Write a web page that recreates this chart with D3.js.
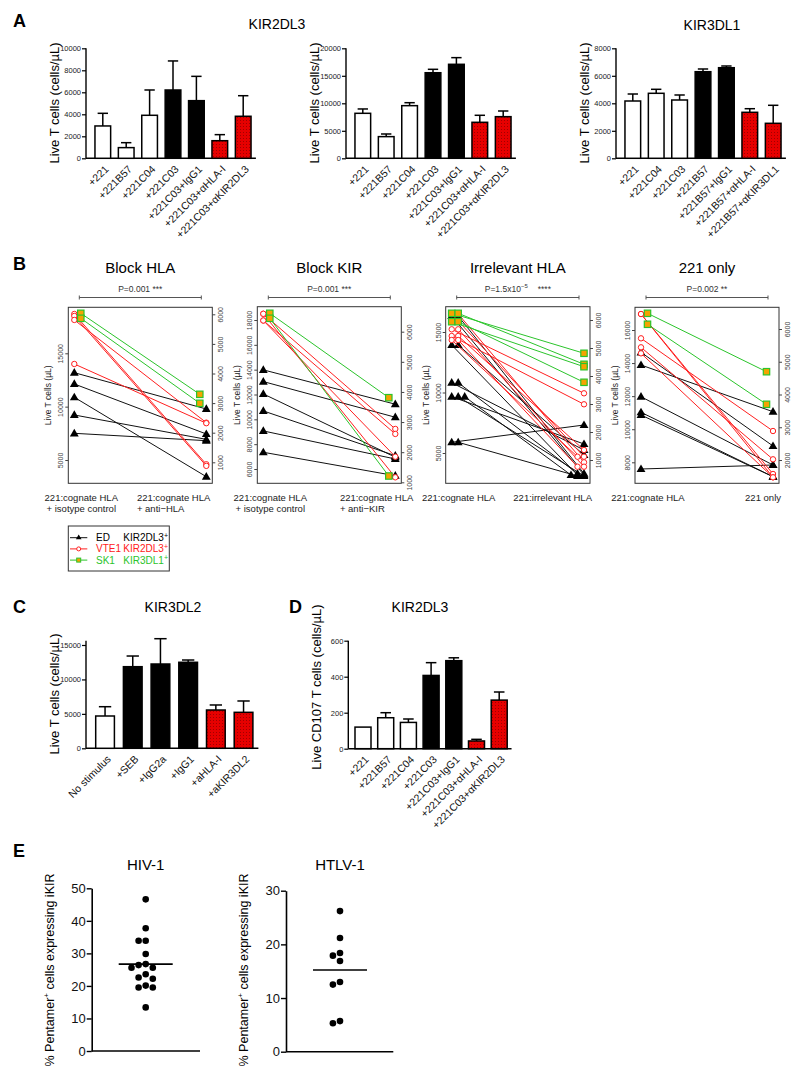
<!DOCTYPE html>
<html lang="en">
<head>
<meta charset="UTF-8">
<title>KIR blocking figure</title>
<script src="https://cdn.jsdelivr.net/npm/d3@7/dist/d3.min.js"></script>
<style>
body{margin:0;background:#fff}
svg{font-family:"Liberation Sans",Arial,Helvetica,sans-serif}
</style>
</head>
<body>
<script>
// ---------------- data ----------------
// panel A : mean and SEM (cells/uL)
const a1Cats=["+221","+221B57","+221C04","+221C03","+221C03+IgG1","+221C03+\u03b1HLA-I","+221C03+\u03b1KIR2DL3"]
const a1Kind=["w","w","w","k","k","r","r"]
const a1Mean=[2940,970,3910,6210,5240,1600,3820]
const a1Sem=[1150,450,2300,2640,2210,550,1870]

const a2Cats=a1Cats
const a2Kind=a1Kind
const a2Mean=[8180,3940,9570,15560,17090,6545,7570]
const a2Sem=[790,480,540,620,1210,1275,1030]

const a3Cats=["+221","+221C04","+221C03","+221B57","+221B57+IgG1","+221B57+\u03b1HLA-I","+221B57+\u03b1KIR3DL1"]
const a3Kind=["w","w","w","k","k","r","r"]
const a3Mean=[4167,4727,4240,6298,6589,3345,2545]
const a3Sem=[509,291,364,197,124,262,1310]

// panel C
const cCats=["No stimulus","+SEB","+IgG2a","+IgG1","+aHLA-I","+aKIR3DL2"]
const cKind=["w","k","k","k","r","r"]
const cMean=[4690,11850,12240,12490,5560,5225]
const cSem=[1350,1550,3675,330,730,1645]

// panel D
const dCats=a1Cats
const dKind=a1Kind
const dMean=[120,172,146,407,489,43,270]
const dSem=[0,28,19,71,16,9,45]

// panel B : [before, after] for each line
const b1Black=[[13184,9781],[12125,7437],[10878,3437],[9219,6937],[7500,6812]]
const b1Red=[[18687,4600],[18500,4450],[18125,8500],[14000,8450]]
const b1Green=[[6034,3297],[5865,2993]]

const b2Black=[[13984,11218],[13040,10169],[12048,6950],[10677,7073],[9065,6806],[7347,5460]]
const b2Red=[[18500,9226],[18500,5330],[17960,8823],[17960,6992]]
const b2Green=[[6611,3809],[6445,1209]]

const b3Black=[[16322,3180],[16322,3300],[13925,3180],[13925,4835],[10810,5248],[10810,3300],[9653,5744],[9653,3100],[9653,3180],[5884,7314],[5884,3100]]
const b3Red=[[16488,4694],[16488,4231],[15223,9934],[15223,3868],[14669,9025],[14669,5248],[14339,4694],[14339,3868]]
const b3Green=[[6239,4811],[6239,4418],[5939,4332],[5939,3775]]

const b4Black=[[14650,8985],[13883,11059],[11966,7837],[11023,7130],[10860,7130],[7595,7837]]
const b4Red=[[16967,7293],[16967,7093],[15497,9892],[14953,8181],[14590,7093]]
const b4Green=[[6479,4696],[6144,3701]]

const legendNames=["ED","VTE1","SK1"]
const legendKir=["KIR2DL3","KIR2DL3","KIR3DL1"]

// panel E : % pentamer+ cells expressing iKIR
const hivVals=[46.6,37.7,33.9,33.9,29.8,26.4,25.6,26.7,25.6,22.2,22.6,23.6,19.5,19.5,20.1,13.4]
const htlvVals=[26.2,21.2,18.4,17.9,16.9,13.0,12.5,5.3,5.7]

// ---------------- drawing ----------------
const svg=d3.select('body').append('svg').attr('width',800).attr('height',1083)
const defs=svg.append('defs')
const pat=defs.append('pattern').attr('id','redfill').attr('width',3).attr('height',3).attr('patternUnits','userSpaceOnUse')
pat.append('rect').attr('width',3).attr('height',3).attr('fill','#e60000')
pat.append('rect').attr('width',1).attr('height',1).attr('fill','#a00000')

function txt(x,y,s,size,opt){
  opt=opt||{}
  return svg.append('text').attr('x',x).attr('y',y).attr('font-size',size)
    .attr('text-anchor',opt.anchor||'middle').attr('font-weight',opt.bold?'bold':null)
    .attr('fill',opt.fill||'#000').text(s)
}
function vlabel(x,y,s,size){
  return svg.append('text').attr('transform',`translate(${x},${y}) rotate(-90)`)
    .attr('text-anchor','middle').attr('font-size',size).text(s)
}

function barChart(o){
  const g=svg.append('g')
  const y=d3.scaleLinear().domain([0,o.yMax]).range([o.base,o.top])
  const r0=o.x0+o.pad
  const x=d3.scaleBand().domain(o.cats).range([r0,r0+o.step*o.cats.length]).paddingInner(o.gap).paddingOuter(o.gap/2)
  const yAxis=d3.axisLeft(y).tickValues(o.ticks).tickSize(4).tickSizeOuter(0).tickFormat(d3.format('d'))
  const ya=g.append('g').attr('transform',`translate(${o.x0},0)`).call(yAxis)
  ya.select('.domain').attr('stroke','#000').attr('stroke-width',1.4).attr('d',`M0,${o.base}V${y(o.axisTop||o.yMax)}`)
  ya.selectAll('.tick line').attr('stroke-width',1.2)
  ya.selectAll('.tick text').attr('font-size',7.5).attr('fill','#222').attr('x',-5)
  g.append('line').attr('x1',o.x0).attr('x2',r0+o.step*o.cats.length+1).attr('y1',o.base).attr('y2',o.base)
    .attr('stroke','#000').attr('stroke-width',1.4)
  const fill=k=>k==='w'?'#fff':k==='k'?'#000':'url(#redfill)'
  o.cats.forEach((c,i)=>{
    const cx=x(c)+x.bandwidth()/2
    if(o.sem[i]>0){
      const yt=y(o.mean[i]+o.sem[i])
      g.append('line').attr('x1',cx).attr('x2',cx).attr('y1',y(o.mean[i])).attr('y2',yt).attr('stroke','#000').attr('stroke-width',1.5)
      g.append('line').attr('x1',cx-x.bandwidth()*0.33).attr('x2',cx+x.bandwidth()*0.33).attr('y1',yt).attr('y2',yt).attr('stroke','#000').attr('stroke-width',1.5)
    }
    g.append('rect').attr('x',x(c)).attr('y',y(o.mean[i])).attr('width',x.bandwidth()).attr('height',o.base-y(o.mean[i]))
      .attr('fill',fill(o.kind[i])).attr('stroke','#000').attr('stroke-width',1.5)
    g.append('text').attr('transform',`translate(${cx+2},${o.base+7}) rotate(-45)`).attr('text-anchor','end')
      .attr('dy','0.6em').attr('font-size',10.5).attr('fill','#111').text(c)
  })
}

// ----- A -----
txt(13,27,'A',18,{anchor:'start',bold:true})
txt(277,29,'KIR2DL3',14)
txt(712,30,'KIR3DL1',14)
const aBase={top:48.3,base:158.3,pad:5.1,step:23.4,gap:0.33}
barChart(Object.assign({x0:86,cats:a1Cats,kind:a1Kind,mean:a1Mean,sem:a1Sem,yMax:10000,ticks:[0,2000,4000,6000,8000,10000]},aBase))
barChart(Object.assign({x0:346,cats:a2Cats,kind:a2Kind,mean:a2Mean,sem:a2Sem,yMax:20000,ticks:[0,5000,10000,15000,20000]},aBase))
barChart(Object.assign({x0:616,cats:a3Cats,kind:a3Kind,mean:a3Mean,sem:a3Sem,yMax:8000,ticks:[0,2000,4000,6000,8000]},aBase))
vlabel(59,103,'Live T cells (cells/\u00b5L)',13)
vlabel(319,103,'Live T cells (cells/\u00b5L)',13)
vlabel(589,103,'Live T cells (cells/\u00b5L)',13)

// ----- B -----
txt(13,270,'B',18,{anchor:'start',bold:true})
const styles={
  black:{color:'#111',mark:'tri'},
  red:{color:'#ff2020',mark:'circ'},
  green:{color:'#2bc42b',mark:'sq'}
}
function marker(g,kind,x,y,color){
  if(kind==='tri') g.append('path').attr('d',d3.symbol(d3.symbolTriangle,34)()).attr('transform',`translate(${x},${y+0.5})`).attr('fill','#000')
  else if(kind==='circ') g.append('circle').attr('cx',x).attr('cy',y).attr('r',2.7).attr('fill','#fff').attr('stroke',color).attr('stroke-width',1)
  else g.append('rect').attr('x',x-3.2).attr('y',y-3.2).attr('width',6.4).attr('height',6.4).attr('fill','#f5a300').attr('stroke',color).attr('stroke-width',1.2)
}
function paired(c){
  const {x0,y0,x1,y1}=c.box
  const g=svg.append('g')
  const yL=d3.scaleLinear().domain(c.leftRef).range(c.leftPx)
  const yR=d3.scaleLinear().domain(c.rightRef).range(c.rightPx)
  const x=d3.scalePoint().domain(['pre','post']).range([x0+6,x1-6])
  g.append('rect').attr('x',x0).attr('y',y0).attr('width',x1-x0).attr('height',y1-y0).attr('fill','none').attr('stroke','#333').attr('stroke-width',1)
  const la=g.append('g').attr('transform',`translate(${x0},0)`).call(d3.axisLeft(yL).tickValues(c.leftTicks).tickSize(3).tickFormat(d3.format('d')))
  la.select('.domain').remove()
  la.selectAll('.tick line').attr('stroke','#444')
  la.selectAll('.tick text').attr('transform','rotate(-90)').attr('x',0).attr('y',-5).attr('dy',0).attr('text-anchor','middle').attr('font-size',7).attr('fill','#444')
  const ra=g.append('g').attr('transform',`translate(${x1},0)`).call(d3.axisRight(yR).tickValues(c.rightTicks).tickSize(3).tickFormat(d3.format('d')))
  ra.select('.domain').remove()
  ra.selectAll('.tick line').attr('stroke','#444')
  ra.selectAll('.tick text').attr('transform','rotate(-90)').attr('x',0).attr('y',11).attr('dy',0).attr('text-anchor','middle').attr('font-size',7).attr('fill','#444')
  // lines then markers
  const counts={}
  const place=(side,key,v)=>{
    if(!c.dodge) return 0
    const k=side+key+v
    counts[k]=(counts[k]||0)+1
    return counts[k]-1
  }
  c.series.forEach(s=>{
    const st=styles[s.key]
    const ys=s.axis==='R'?yR:yL
    const pts=s.data.map(d=>{
      const shift=(s.key==='green'&&c.greenShift)?6.5:0
      const xa=x('pre')+shift+6.5*place('L',s.key,d[0])
      const xb=x('post')-shift-6.5*place('R',s.key,d[1])
      return [xa,ys(d[0]),xb,ys(d[1])]
    })
    pts.forEach(p=>g.append('line').attr('x1',p[0]).attr('y1',p[1]).attr('x2',p[2]).attr('y2',p[3]).attr('stroke',st.color).attr('stroke-width',1))
    pts.forEach(p=>{marker(g,st.mark,p[0],p[1],st.color);marker(g,st.mark,p[2],p[3],st.color)})
  })
  // titles, p-value bracket
  const mid=(x0+x1)/2
  txt(mid,273,c.title,15)
  const bx0=x0+11,bx1=x1-11
  g.append('line').attr('x1',bx0).attr('x2',bx1).attr('y1',297.5).attr('y2',297.5).attr('stroke','#555')
  ;[bx0,bx1].forEach(v=>g.append('line').attr('x1',v).attr('x2',v).attr('y1',295.5).attr('y2',299.5).attr('stroke','#555'))
  const pt=svg.append('text').attr('x',mid).attr('y',292).attr('text-anchor','middle').attr('font-size',8.5).attr('fill','#333')
  c.pText(pt)
  // x labels
  const lx=x('pre')+7
  c.leftLab.forEach((s,i)=>txt(lx,c.y1lab+i*11,s,9.5,{fill:'#222'}))
  const t0=txt(0,c.y1lab,c.rightLab[0],9.5,{anchor:'start',fill:'#222'})
  const w=t0.node().getComputedTextLength()
  const sx=x1+c.rShift-w
  t0.attr('x',sx)
  if(c.rightLab[1]) txt(sx,c.y1lab+11,c.rightLab[1],9.5,{anchor:'start',fill:'#222'})
  g.append('text').attr('transform',`translate(${x0-17},${(y0+y1)/2}) rotate(-90)`).attr('text-anchor','middle').attr('font-size',8.5).attr('fill','#222')
    .text('Live T cells (\u00b5L)')
}
const pSimple=s=>t=>t.text(s)
paired({box:{x0:68.3,y0:307.3,x1:212.3,y1:483.3},leftRef:[5000,15000],leftPx:[460,353.3],rightRef:[1000,6000],rightPx:[462.3,314.3],
  leftTicks:[5000,10000,15000],rightTicks:[1000,2000,3000,4000,5000,6000],greenShift:true,dodge:false,
  series:[{key:'black',data:b1Black,axis:'L'},{key:'red',data:b1Red,axis:'L'},{key:'green',data:b1Green,axis:'R'}],
  title:'Block HLA',pText:pSimple('P=0.001 ***'),y1lab:501,leftLab:['221:cognate HLA','+ isotype control'],rightLab:['221:cognate HLA','+ anti\u2212HLA'],rShift:-2})
paired({box:{x0:257.3,y0:306.7,x1:401.3,y1:483.3},leftRef:[6000,18000],leftPx:[469,320],rightRef:[1000,6000],rightPx:[482.3,331.7],
  leftTicks:[6000,8000,10000,12000,14000,16000,18000],rightTicks:[1000,2000,3000,4000,5000,6000],greenShift:true,dodge:false,
  series:[{key:'black',data:b2Black,axis:'L'},{key:'red',data:b2Red,axis:'L'},{key:'green',data:b2Green,axis:'R'}],
  title:'Block KIR',pText:pSimple('P=0.001 ***'),y1lab:501,leftLab:['221:cognate HLA','+ isotype control'],rightLab:['221:cognate HLA','+ anti\u2212KIR'],rShift:12})
paired({box:{x0:445.7,y0:306.7,x1:590,y1:483.3},leftRef:[5000,15000],leftPx:[453,332],rightRef:[1000,6000],rightPx:[460,320],
  leftTicks:[5000,10000,15000],rightTicks:[1000,2000,3000,4000,5000,6000],greenShift:false,dodge:true,
  series:[{key:'black',data:b3Black,axis:'L'},{key:'red',data:b3Red,axis:'L'},{key:'green',data:b3Green,axis:'R'}],
  title:'Irrelevant HLA',pText:t=>{t.append('tspan').text('P=1.5x10');t.append('tspan').attr('font-size',6).attr('dy',-4).text('\u22125');t.append('tspan').attr('dy',4).attr('dx',10).text('****')},
  y1lab:501,leftLab:['221:cognate HLA'],rightLab:['221:irrelevant HLA'],rShift:2})
paired({box:{x0:635,y0:307.3,x1:779,y1:483.3},leftRef:[8000,16000],leftPx:[462.3,330],rightRef:[2000,6000],rightPx:[460,329],
  leftTicks:[8000,10000,12000,14000,16000],rightTicks:[2000,3000,4000,5000,6000],greenShift:true,dodge:false,
  series:[{key:'black',data:b4Black,axis:'L'},{key:'red',data:b4Red,axis:'L'},{key:'green',data:b4Green,axis:'R'}],
  title:'221 only',pText:pSimple('P=0.002 **'),y1lab:501,leftLab:['221:cognate HLA'],rightLab:['221 only'],rShift:2})

// legend
const lg=svg.append('g')
lg.append('rect').attr('x',68.3).attr('y',526).attr('width',101).attr('height',45).attr('fill','#fff').attr('stroke','#333')
const legKeys=['black','red','green']
legKeys.forEach((k,i)=>{
  const yy=537.7+i*11.2
  const col=styles[k].color
  lg.append('line').attr('x1',70).attr('x2',87.3).attr('y1',yy).attr('y2',yy).attr('stroke',col)
  const mg=lg.append('g')
  if(k==='black') mg.append('path').attr('d',d3.symbol(d3.symbolTriangle,14)()).attr('transform',`translate(78.7,${yy})`).attr('fill','#000')
  else if(k==='red') mg.append('circle').attr('cx',78.7).attr('cy',yy).attr('r',2).attr('fill','#fff').attr('stroke',col)
  else mg.append('rect').attr('x',76.7).attr('y',yy-2).attr('width',4).attr('height',4).attr('fill','#f5a300').attr('stroke',col)
  const tc=k==='black'?'#000':col
  lg.append('text').attr('x',96).attr('y',yy+3.5).attr('font-size',10).attr('fill',tc).text(legendNames[i])
  const t=lg.append('text').attr('x',123.3).attr('y',yy+3.5).attr('font-size',10).attr('fill',tc)
  t.append('tspan').text(legendKir[i])
  t.append('tspan').attr('font-size',7).attr('dy',-3.5).text('+')
})

// ----- C and D -----
txt(13,612.5,'C',18,{anchor:'start',bold:true})
txt(173,612,'KIR3DL2',14)
barChart({x0:86,top:645,base:748.3,pad:5.2,step:27.7,gap:0.325,cats:cCats,kind:cKind,mean:cMean,sem:cSem,yMax:15000,axisTop:15600,ticks:[0,5000,10000,15000]})
vlabel(59,694,'Live T cells (cells/\u00b5L)',13)

txt(289,612.5,'D',18,{anchor:'start',bold:true})
txt(420,612,'KIR2DL3',14)
barChart({x0:348.3,top:640.7,base:748.7,pad:3.35,step:22.7,gap:0.295,cats:dCats,kind:dKind,mean:dMean,sem:dSem,yMax:600,ticks:[0,200,400,600]})
vlabel(321,687,'Live CD107 T cells (cells/\u00b5L)',13)

// ----- E -----
txt(13,857,'E',18,{anchor:'start',bold:true})
function swarm(vals,y,r){
  const placed=[],off=new Array(vals.length)
  const order=d3.range(vals.length).sort((a,b)=>vals[b]-vals[a])
  const cands=[0]
  for(let k=1;k<8;k++){cands.push(-k*r*2.15,k*r*2.15)}
  order.forEach(i=>{
    const py=y(vals[i])
    for(const c of cands){
      if(placed.every(p=>Math.hypot(p.x-c,p.y-py)>=2*r+0.4)){off[i]=c;placed.push({x:c,y:py});break}
    }
  })
  return off
}
function dotPlot(o){
  const g=svg.append('g')
  const y=d3.scaleLinear().domain([0,o.yMax]).range([o.base,o.top])
  const ya=g.append('g').attr('transform',`translate(${o.x0},0)`).call(d3.axisLeft(y).tickValues(o.ticks).tickSize(5).tickSizeOuter(0))
  ya.select('.domain').attr('stroke-width',1.6)
  ya.selectAll('.tick line').attr('stroke-width',1.4)
  ya.selectAll('.tick text').attr('font-size',13).attr('x',-6).attr('fill','#111')
  g.append('line').attr('x1',o.x0).attr('x2',o.x1).attr('y1',o.base).attr('y2',o.base).attr('stroke','#000').attr('stroke-width',1.6)
  const off=swarm(o.vals,y,3.3)
  g.selectAll('circle.pt').data(o.vals).join('circle').attr('class','pt')
    .attr('cx',(d,i)=>o.cx+off[i]).attr('cy',d=>y(d)).attr('r',3.3).attr('fill','#000')
  const m=d3.mean(o.vals)
  g.append('line').attr('x1',o.cx-27).attr('x2',o.cx+27).attr('y1',y(m)).attr('y2',y(m)).attr('stroke','#000').attr('stroke-width',1.6)
  txt(o.cx,870,o.title,15)
  svg.append('text').attr('transform',`translate(${o.x0-38},970) rotate(-90)`).attr('text-anchor','middle').attr('font-size',12.5)
    .call(t=>{t.append('tspan').text('% Pentamer');t.append('tspan').attr('font-size',8).attr('dy',-5).text('+');t.append('tspan').attr('dy',5).text(' cells expressing iKIR')})
}
dotPlot({x0:91.7,x1:200,top:888.3,base:1051,yMax:50,ticks:[0,10,20,30,40,50],vals:hivVals,cx:145.7,title:'HIV-1'})
dotPlot({x0:286,x1:393.3,top:890.7,base:1051.7,yMax:30,ticks:[0,10,20,30],vals:htlvVals,cx:340,title:'HTLV-1'})
</script>
</body>
</html>
